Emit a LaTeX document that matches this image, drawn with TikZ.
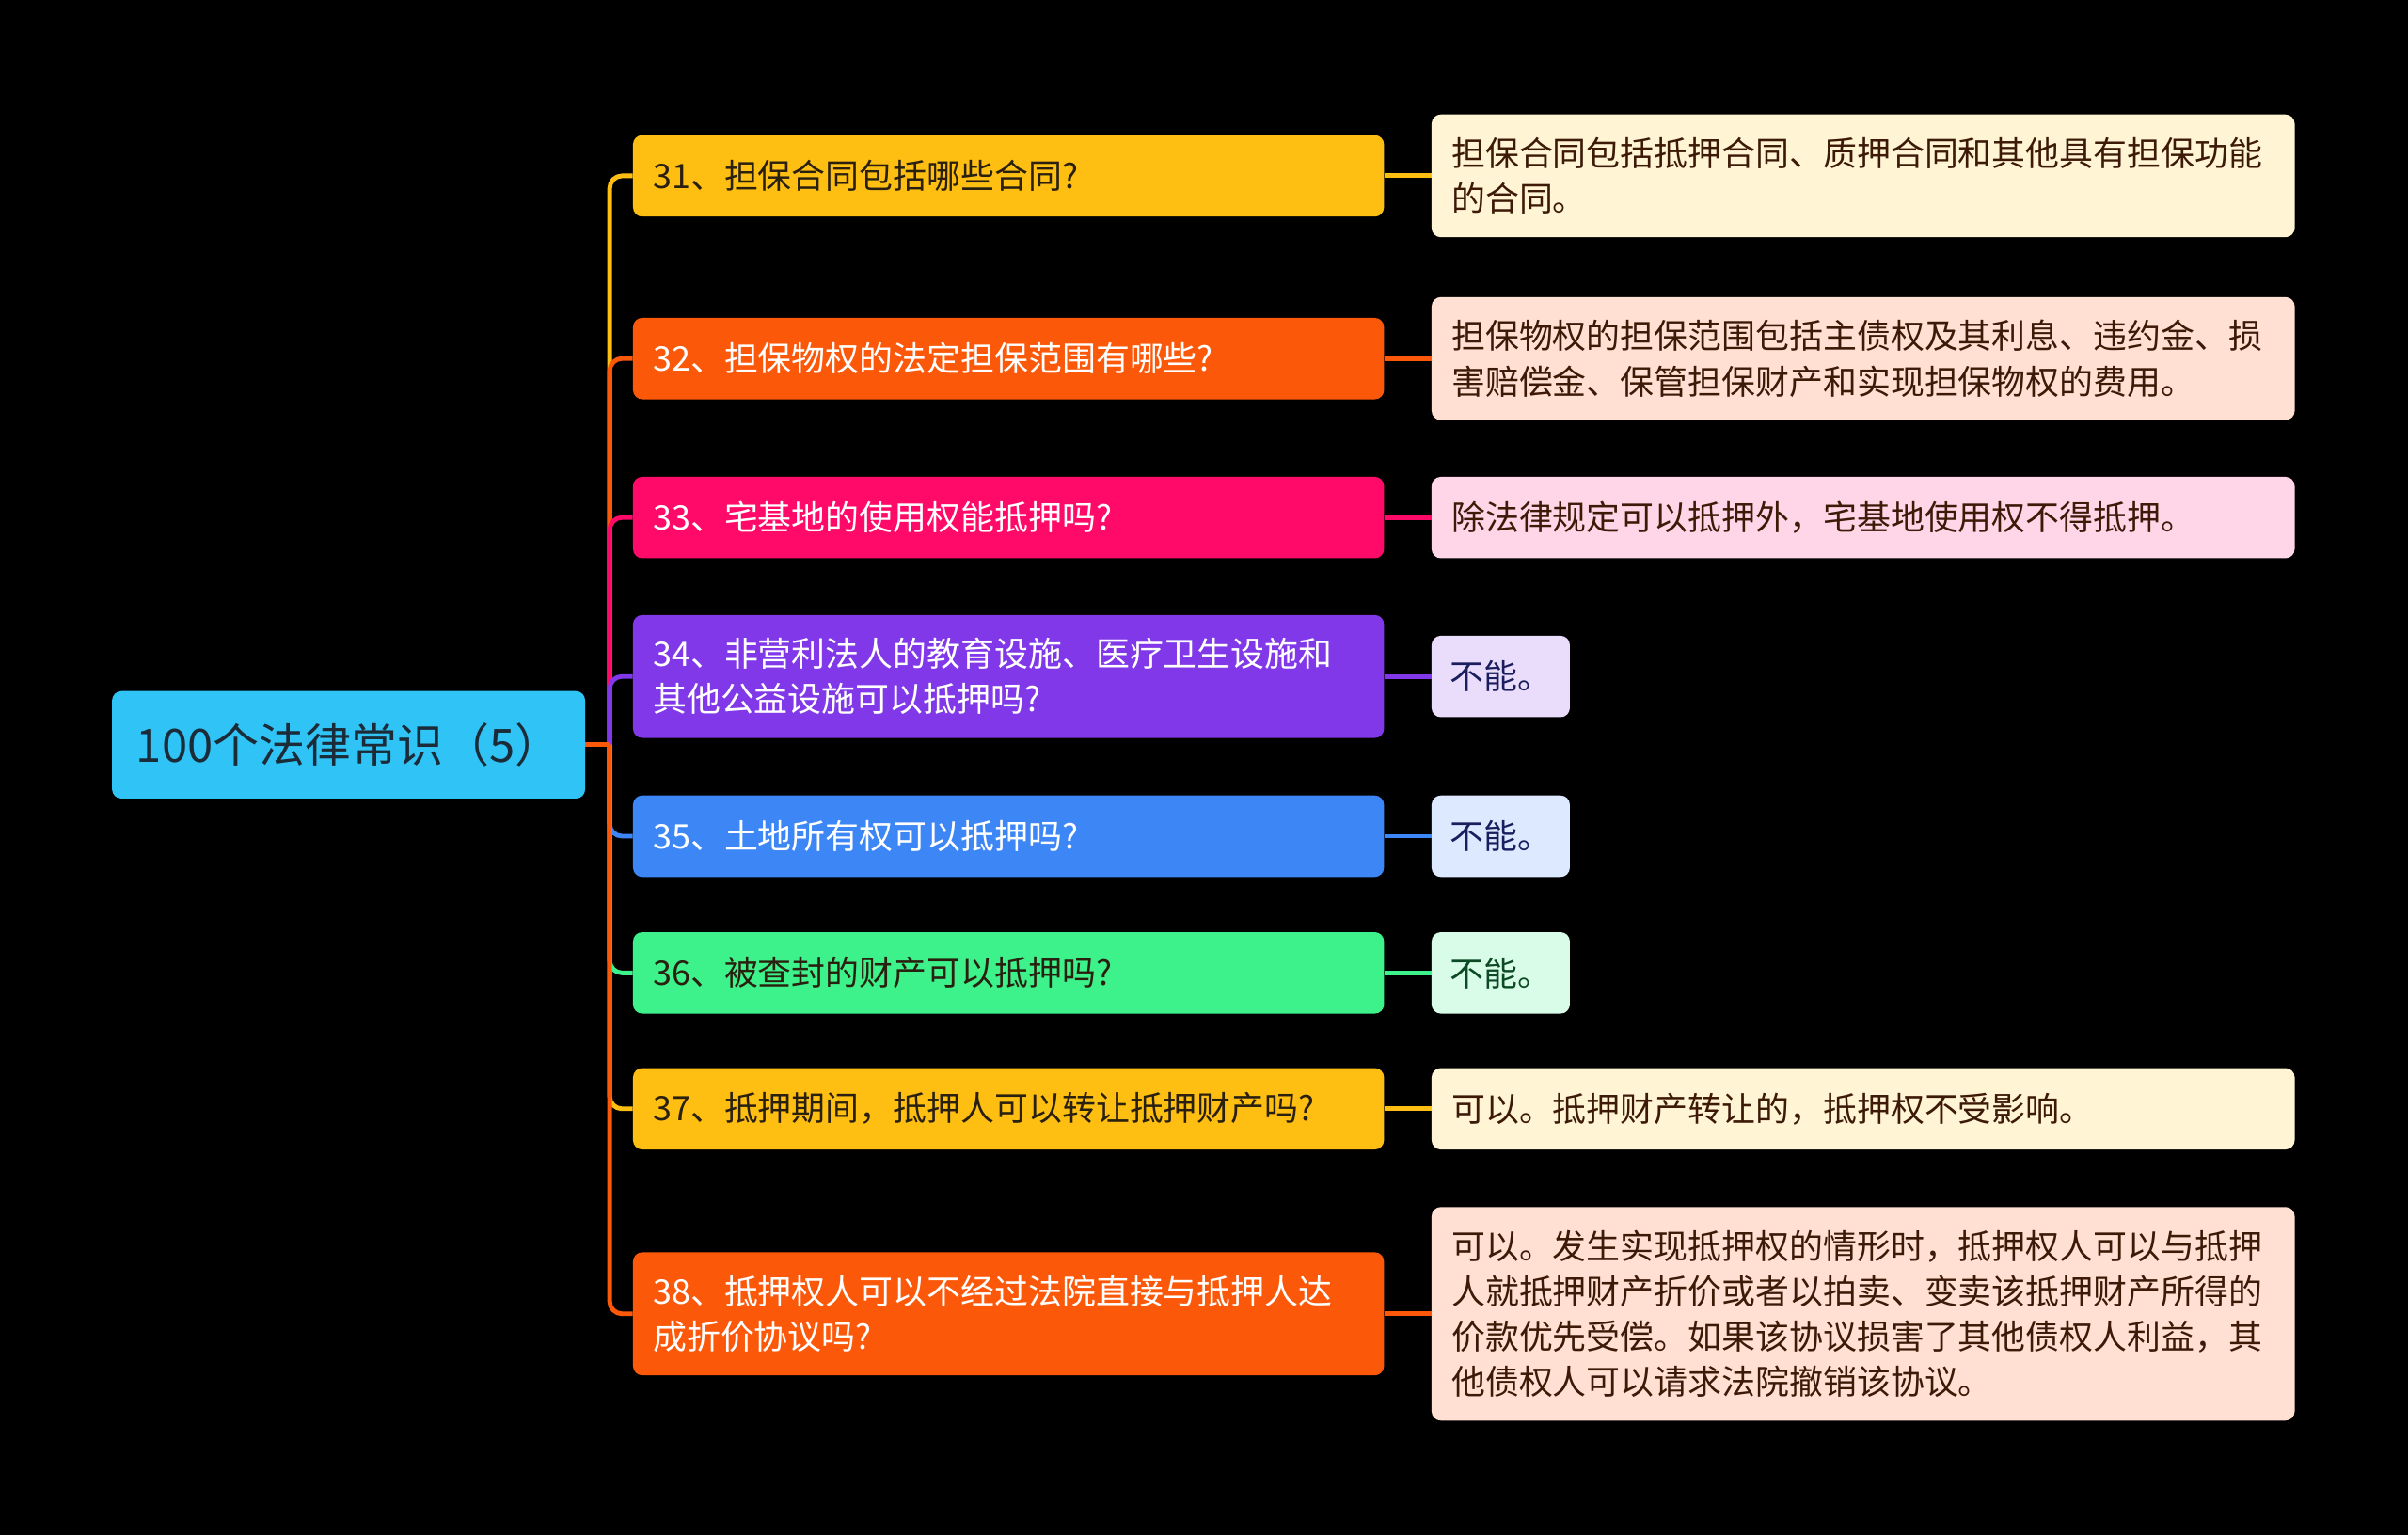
\documentclass[tikz,border=0pt]{standalone}
\usepackage{fontspec}
\setmainfont{Noto Sans CJK SC}
\usetikzlibrary{positioning, calc}

\definecolor{rootblue}{HTML}{30C4F6}
\definecolor{roottext}{HTML}{1B2B38}
\definecolor{cyel}{HTML}{FFBF12}
\definecolor{corg}{HTML}{FC580A}
\definecolor{cpink}{HTML}{FF0A68}
\definecolor{cpurp}{HTML}{8038E8}
\definecolor{cblue}{HTML}{3D86F6}
\definecolor{cgreen}{HTML}{3DF28A}
\definecolor{lyel}{HTML}{FFF4D4}
\definecolor{lorg}{HTML}{FFE0D2}
\definecolor{lpink}{HTML}{FFD6E8}
\definecolor{lpurp}{HTML}{E9DDFB}
\definecolor{lblue}{HTML}{DCE9FE}
\definecolor{lgreen}{HTML}{D8FCE8}
\definecolor{tdark}{HTML}{2A2010}
\definecolor{tbrown}{HTML}{3D1A08}
\definecolor{tnavy}{HTML}{1A1E5E}
\definecolor{tgreen}{HTML}{0B4A24}

\tikzset{
  rootbox/.style={fill=rootblue, text=roottext, rounded corners=6pt, minimum width=308pt, minimum height=70pt, inner sep=0pt, font=\fontsize{30}{36}\selectfont},
  ques/.style={anchor=west, rounded corners=6pt, text width=463pt, align=left, inner xsep=13pt, inner ysep=15pt, minimum height=53pt, font=\fontsize{22}{29.5}\selectfont},
  ans/.style={ques, text width=536pt},
  shortans/.style={anchor=west, rounded corners=6pt, inner xsep=12pt, inner ysep=15pt, minimum height=53pt, minimum width=90pt, font=\fontsize{22}{29.5}\selectfont},
  link/.style={line width=3pt},
}

\begin{document}
\begin{tikzpicture}[x=1pt,y=-1pt]
\fill[black] (0,0) rectangle (1568,999.6);
\useasboundingbox (0,0) rectangle (1568,999.6);

\node[rootbox] (root) at (227,485) {100个法律常识（5）};
\coordinate (hub) at (397,485);

\node[ques, fill=cyel, text=tdark] (q31) at (412,114.5) {31、担保合同包括哪些合同?};
\node[ques, fill=corg, text=white] (q32) at (412,233.5) {32、担保物权的法定担保范围有哪些?};
\node[ques, fill=cpink, text=white] (q33) at (412,337) {33、宅基地的使用权能抵押吗?};
\node[ques, fill=cpurp, text=white] (q34) at (412,440.5) {34、非营利法人的教育设施、医疗卫生设施和\\其他公益设施可以抵押吗?};
\node[ques, fill=cblue, text=white] (q35) at (412,544.5) {35、土地所有权可以抵押吗?};
\node[ques, fill=cgreen, text=tdark] (q36) at (412,633.5) {36、被查封的财产可以抵押吗?};
\node[ques, fill=cyel, text=tdark] (q37) at (412,722) {37、抵押期间，抵押人可以转让抵押财产吗?};
\node[ques, fill=corg, text=white] (q38) at (412,855.5) {38、抵押权人可以不经过法院直接与抵押人达\\成折价协议吗?};

\node[ans, fill=lyel, text=tbrown] (a31) at (932,114.5) {担保合同包括抵押合同、质押合同和其他具有担保功能\\的合同。};
\node[ans, fill=lorg, text=tbrown] (a32) at (932,233.5) {担保物权的担保范围包括主债权及其利息、违约金、损\\害赔偿金、保管担保财产和实现担保物权的费用。};
\node[ans, fill=lpink, text=tbrown] (a33) at (932,337) {除法律规定可以抵押外，宅基地使用权不得抵押。};
\node[shortans, fill=lpurp, text=tnavy] (a34) at (932,440.5) {不能。};
\node[shortans, fill=lblue, text=tnavy] (a35) at (932,544.5) {不能。};
\node[shortans, fill=lgreen, text=tgreen] (a36) at (932,633.5) {不能。};
\node[ans, fill=lyel, text=tbrown] (a37) at (932,722) {可以。抵押财产转让的，抵押权不受影响。};
\node[ans, fill=lorg, text=tbrown] (a38) at (932,855.5) {可以。发生实现抵押权的情形时，抵押权人可以与抵押\\人就抵押财产折价或者以拍卖、变卖该抵押财产所得的\\价款优先受偿。如果该协议损害了其他债权人利益，其\\他债权人可以请求法院撤销该协议。};

\draw[link, cyel, rounded corners=8pt] (hub) |- (q31.west);
\draw[link, corg, rounded corners=8pt] (hub) |- (q32.west);
\draw[link, cpink, rounded corners=8pt] (hub) |- (q33.west);
\draw[link, cpurp, rounded corners=8pt] (hub) |- (q34.west);
\draw[link, cblue, rounded corners=8pt] (hub) |- (q35.west);
\draw[link, cgreen, rounded corners=8pt] (hub) |- (q36.west);
\draw[link, cyel, rounded corners=8pt] (hub) |- (q37.west);
\draw[link, corg, rounded corners=8pt] (hub) |- (q38.west);
\draw[link, corg] (root.east) -- (hub);

\draw[link, cyel] (q31.east) -- (a31.west);
\draw[link, corg] (q32.east) -- (a32.west);
\draw[link, cpink] (q33.east) -- (a33.west);
\draw[link, cpurp] (q34.east) -- (a34.west);
\draw[link, cblue] (q35.east) -- (a35.west);
\draw[link, cgreen] (q36.east) -- (a36.west);
\draw[link, cyel] (q37.east) -- (a37.west);
\draw[link, corg] (q38.east) -- (a38.west);
\end{tikzpicture}
\end{document}
